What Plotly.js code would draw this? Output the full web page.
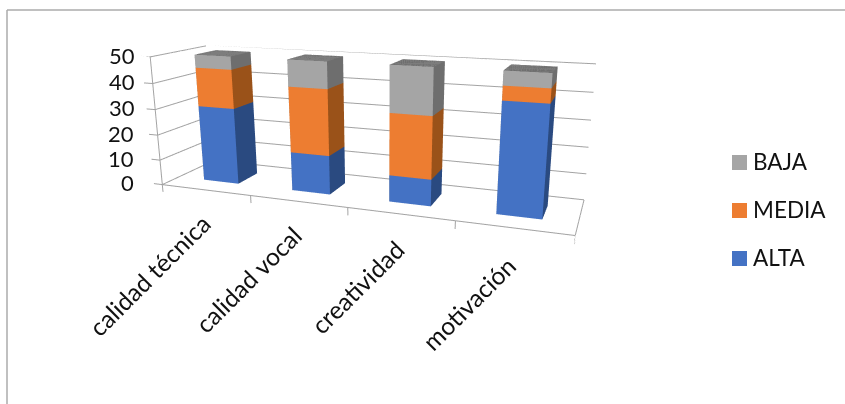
<!DOCTYPE html>
<html>
<head>
<meta charset="utf-8">
<script src="https://cdn.plot.ly/plotly-3.0.1.min.js"></script>
<style>
html,body{margin:0;padding:0;width:845px;height:404px;overflow:hidden;background:#fff}
#chart{position:absolute;left:0;top:-120px;width:845px;height:580px}
</style>
</head>
<body>
<div id="chart"></div>
<script>
// Respondent counts per attribute, stacked from ALTA upward
const categories = ['calidad técnica', 'calidad vocal', 'creatividad', 'motivación'];
const alta  = [30, 15, 10, 40];
const media = [15, 25, 23, 5];
const baja  = [5, 10, 17, 5];
const valueTicks = [0, 10, 20, 30, 40, 50];

const seriesNames = ['ALTA', 'MEDIA', 'BAJA'];
const frontColors = ['#4472c4', '#ed7d31', '#a5a5a5'];
const sideColors  = ['#2a4a80', '#9a5219', '#6e6e6e'];
const topColors   = ['#35599a', '#b9621f', '#7d7d7d'];
const frameColor = '#a3a3a3';
const textColor = '#111';
const fontFamily = 'Lato, "Open Sans", sans-serif';

// Axis extents, with a little room for the tick marks past the floor and wall
const xRange = [-0.11, 4], yRange = [0, 1], zRange = [-3.5, 50];
// Floor and wall lengths in scene units, camera placed in the same units
const boxLen = [100, 23.5, 31.75];
const perX = boxLen[0] / 4, perY = boxLen[1], perZ = boxLen[2] / 50;
const span = [(xRange[1]-xRange[0])*perX, (yRange[1]-yRange[0])*perY, (zRange[1]-zRange[0])*perZ];
const mid  = [(xRange[0]+xRange[1])/2*perX, (yRange[0]+yRange[1])/2*perY, (zRange[0]+zRange[1])/2*perZ];
const eyePoint = [107.65, -138.13, 53.75], lookPoint = [54.77, 9.69, 6.61];
const toScene = p => ({x:(p[0]-mid[0])/100, y:(p[1]-mid[1])/100, z:(p[2]-mid[2])/100});

// One mesh per series: a box for each category with flat-coloured faces
function seriesMesh(k, values, base) {
  const x=[], y=[], z=[], i=[], j=[], c=[], fc=[];
  values.forEach((v, n) => {
    const x0=n+0.3, x1=n+0.7, y0=0.3, y1=0.7, z0=base[n], z1=base[n]+v, o=x.length;
    [[x0,y0,z0],[x1,y0,z0],[x1,y1,z0],[x0,y1,z0],[x0,y0,z1],[x1,y0,z1],[x1,y1,z1],[x0,y1,z1]]
      .forEach(p => { x.push(p[0]); y.push(p[1]); z.push(p[2]); });
    const quads = [[0,1,5,4,frontColors[k]],[1,2,6,5,sideColors[k]],[4,5,6,7,topColors[k]],
                   [0,3,7,4,sideColors[k]],[3,2,6,7,sideColors[k]],[0,1,2,3,sideColors[k]]];
    quads.forEach(q => {
      i.push(o+q[0], o+q[0]); j.push(o+q[1], o+q[2]); c.push(o+q[2], o+q[3]);
      fc.push(q[4], q[4]);
    });
  });
  return {type:'mesh3d', x, y, z, i, j, k:c, facecolor:fc, flatshading:true, showlegend:false,
    hoverinfo:'skip', showscale:false,
    lighting:{ambient:1, diffuse:0, specular:0, fresnel:0, roughness:1},
    scene:'scene'};
}

const baseAlta = categories.map(() => 0);
const baseMedia = alta.slice();
const baseBaja = alta.map((v, n) => v + media[n]);

// Floor outline, value axis, wall gridlines and tick marks
const fx=[], fy=[], fz=[];
const seg = (a, b) => { fx.push(a[0], b[0], null); fy.push(a[1], b[1], null); fz.push(a[2], b[2], null); };
seg([0,0,0],[4,0,0]); seg([4,0,0],[4,1,0]); seg([0,0,0],[0,0,50]);
for (let n = 0; n <= 4; n++) seg([n,0,0],[n,0,-3]);
valueTicks.forEach(v => {
  seg([0,0,v],[-0.1,0,v]);
  seg([0,0,v],[0,1,v]);
  seg([0,1,v],[4,1,v]);
});
const frame = {type:'scatter3d', mode:'lines', x:fx, y:fy, z:fz, connectgaps:false,
  line:{color:frameColor, width:2}, hoverinfo:'skip', showlegend:false, scene:'scene'};

const tickNotes = valueTicks.map(v => ({x:-0.11, y:0, z:v, text:String(v), showarrow:false,
  xanchor:'right', yanchor:'middle', xshift:-4 - 13*(1 - v/50), yshift:1, font:{family:fontFamily, size:22, color:textColor}}));
const labelShiftX = [13, 12, 12, 10];
const labelShiftY = [-16, -17, -18, -20];
const categoryNotes = categories.map((t, n) => ({x:n+0.5, y:0, z:0, text:t, showarrow:false, textangle:-45,
  xanchor:'right', yanchor:'top', xshift:labelShiftX[n], yshift:labelShiftY[n], font:{family:fontFamily, size:24.6, color:textColor}}));

// Legend keys, top of the stack first
const legendRows = [[2,155],[1,203],[0,251]];
const legendShapes = legendRows.map(r => ({type:'rect', xref:'paper', yref:'paper', x0:732/845, x1:747/845,
  y0:1-(r[1]+120+15)/580, y1:1-(r[1]+120)/580, fillcolor:frontColors[r[0]], line:{width:0}}));
const legendNotes = legendRows.map(r => ({xref:'paper', yref:'paper', x:751/845, y:1-(r[1]+120+6.5)/580,
  text:seriesNames[r[0]], showarrow:false, xanchor:'left', yanchor:'middle', font:{family:fontFamily, size:22.5, color:textColor}}));

const axisBase = {showbackground:false, showticklabels:false, ticks:'', title:{text:''},
  zeroline:false, showline:false, showspikes:false, showgrid:false};

const layout = {
  width:845, height:580, margin:{l:0,r:0,t:0,b:0}, paper_bgcolor:'#fff', plot_bgcolor:'#fff',
  showlegend:false,
  scene:{
    domain:{x:[0,764/845], y:[0,1]},
    aspectmode:'manual',
    aspectratio:{x:span[0]/100, y:span[1]/100, z:span[2]/100},
    camera:{eye:toScene(eyePoint), center:toScene(lookPoint), up:{x:0,y:0,z:1}, projection:{type:'perspective'}},
    xaxis:Object.assign({}, axisBase, {range:xRange}),
    yaxis:Object.assign({}, axisBase, {range:yRange}),
    zaxis:Object.assign({}, axisBase, {range:zRange}),
    annotations:tickNotes.concat(categoryNotes)
  },
  annotations:legendNotes,
  shapes:[
    {type:'line', xref:'paper', yref:'paper', x0:7/845, x1:7/845, y0:0, y1:1-130/580, line:{color:'#ababab', width:1.5}},
    {type:'line', xref:'paper', yref:'paper', x0:7/845, x1:1, y0:1-130/580, y1:1-130/580, line:{color:'#ababab', width:1.5}}
  ].concat(legendShapes)
};

Plotly.newPlot('chart', [
  frame,
  seriesMesh(0, alta, baseAlta),
  seriesMesh(1, media, baseMedia),
  seriesMesh(2, baja, baseBaja)
], layout, {displayModeBar:false});
</script>
</body>
</html>
